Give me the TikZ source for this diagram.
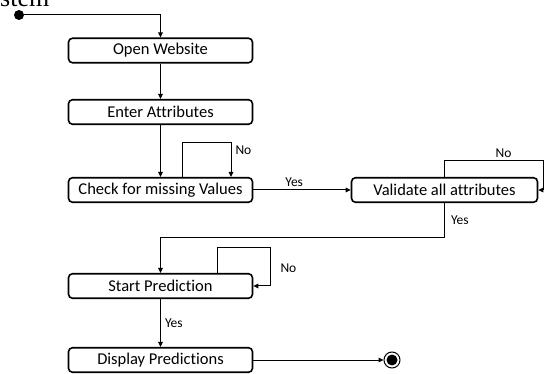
\documentclass[tikz,border=0pt]{standalone}
\usepackage{fontspec}
\setmainfont{Carlito}[Ligatures=NoCommon]
\newfontfamily\capfont{Liberation Serif}
\usepackage{tikz}
\usetikzlibrary{arrows.meta}

\tikzset{
  act/.style={draw, line width=1.6pt, rounded corners=4pt, minimum width=184pt, minimum height=24.5pt, inner sep=0pt, font=\fontsize{16.5}{18}\selectfont},
  flow/.style={line width=1pt, -{Triangle[length=5pt,width=4.5pt]}},
  lbl/.style={font=\fontsize{13.5}{15}\selectfont, inner sep=1pt}
}

\begin{document}
\begin{tikzpicture}[x=1pt,y=-1pt]
\useasboundingbox (0,0) rectangle (544,374);
\clip (0,0) rectangle (544,374);

\node[anchor=base west, inner sep=0pt, font=\capfont\fontsize{26}{26}\selectfont] (cap) at (0,7) {stem};

\node[circle, fill, inner sep=0pt, minimum size=10pt] (init) at (19,15) {};
\node[act] (open) at (160.5,50.5) {Open Website};
\node[act] (enter) at (160.5,112) {Enter Attributes};
\node[act] (check) at (160.5,190) {Check for missing Values};
\node[act, minimum width=186pt] (valid) at (444.5,190) {Validate all attributes};
\node[act] (start) at (160.5,286) {Start Prediction};
\node[act] (display) at (160.5,360) {Display Predictions};
\node[circle, draw, line width=1pt, inner sep=0pt, minimum size=16pt] (final) at (392,360) {};
\fill (final) circle (5.5pt);

\coordinate (chkloop) at (231,143);
\coordinate (vno) at (543,161);
\coordinate (sloop) at (270,248);

\draw[flow] (init) -| (open);
\draw[flow] (open) -- (enter);
\draw[flow] (enter) -- (check);
\draw[flow] ([xshift=21.5pt]check.north) |- (chkloop) -- (chkloop |- check.north) node[lbl, anchor=west, pos=0.2, xshift=3pt] {No};

\draw[flow] (check) -- (valid) node[lbl, anchor=south, pos=0.42, yshift=2pt] {Yes};
\draw[flow] (valid.north) |- (vno) node[lbl, anchor=south, pos=0.8, yshift=2pt] {No} |- (valid.east);
\draw[flow] (valid.south) |- ([yshift=35pt]start.north) node[lbl, anchor=west, pos=0.25, xshift=5pt] {Yes} -- (start.north);

\draw[flow] ([xshift=56.5pt]start.north) |- (sloop) |- (start.east) node[lbl, anchor=west, pos=0.26, xshift=9pt] {No};
\draw[flow] (start) -- (display) node[lbl, anchor=west, midway, xshift=3pt] {Yes};
\draw[flow] (display) -- (final);

\end{tikzpicture}
\end{document}
